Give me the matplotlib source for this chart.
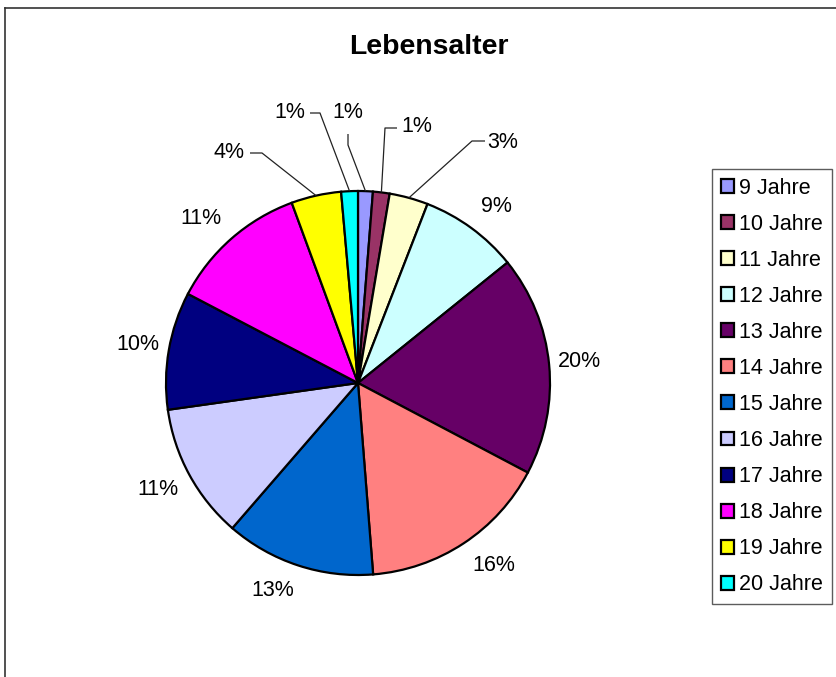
import matplotlib
matplotlib.use("Agg")
import matplotlib.pyplot as plt
from matplotlib.patches import Patch
import numpy as np

plt.rcParams['font.family'] = ['Liberation Sans', 'DejaVu Sans']

# ---- data ----
categories = ["9 Jahre", "10 Jahre", "11 Jahre", "12 Jahre", "13 Jahre", "14 Jahre",
              "15 Jahre", "16 Jahre", "17 Jahre", "18 Jahre", "19 Jahre", "20 Jahre"]
values = [1.24, 1.4, 3.25, 8.3, 18.5, 16.0, 12.6, 11.4, 9.9, 11.7, 4.2, 1.4]
pct_labels = ["1%", "1%", "3%", "9%", "20%", "16%", "13%", "11%", "10%", "11%", "4%", "1%"]
colors = ["#9999FF", "#993366", "#FFFFCC", "#CCFFFF", "#660066", "#FF8080",
          "#0066CC", "#CCCCFF", "#000080", "#FF00FF", "#FFFF00", "#00FFFF"]
title = "Lebensalter"

W, H = 836, 677
fig = plt.figure(figsize=(W / 100, H / 100), dpi=100)
ax = fig.add_axes([0, 0, 1, 1])

def Y(y):
    return H - y

cx, cy, R = 358, Y(383), 192
wedges, _ = ax.pie(values, colors=colors, startangle=90, counterclock=False,
                   center=(cx, cy), radius=R,
                   wedgeprops=dict(edgecolor="black", linewidth=1.6))
ax.set_xlim(0, W)
ax.set_ylim(0, H)
ax.axis("off")

fs_lab = 15.5
renderer = fig.canvas.get_renderer()

# labels with leader lines (layout in image pixel coords): text centre, start, elbow
leader = {
    0: ((348, 113), (348, 134), (348, 145)),
    1: ((417, 127), (397, 128), (385, 128)),
    2: ((503, 142), (485, 141), (472, 141)),
    10: ((229, 152), (250, 153), (262, 153)),
    11: ((290, 113), (310, 113), (320, 113)),
}

for i, w in enumerate(wedges):
    mid = np.deg2rad((w.theta1 + w.theta2) / 2)
    dx, dy = np.cos(mid), np.sin(mid)
    if i in leader:
        (tx, ty), (sx, sy), (ex, ey) = leader[i]
        px, py = cx + R * dx, cy + R * dy
        ax.plot([sx, ex, px], [Y(sy), Y(ey), py], color="#222222", lw=0.9,
                solid_capstyle="butt", zorder=5)
        ax.text(tx, Y(ty), pct_labels[i], fontsize=fs_lab, ha="center", va="center")
    else:
        t = ax.text(0, 0, pct_labels[i], fontsize=fs_lab, ha="center", va="center")
        bb = t.get_window_extent(renderer)
        hw, hh = bb.width / 2, bb.height / 2 * 0.8
        d = R + 8 + 10 * abs(dy)
        ax_, ay_ = cx + d * dx, cy + d * dy
        ox = hw * np.clip(dx * 3, -1, 1)
        oy = hh * np.clip(dy * 3, -1, 1)
        t.set_position((ax_ + ox, ay_ + oy))

fig.text(429 / W, 1 - 47 / H, title, fontsize=20.4, fontweight="bold",
         ha="center", va="center")

# chart area border
ax.plot([5, 5], [0, Y(8)], color="#333333", lw=1.2, solid_capstyle="projecting")
ax.plot([5, W], [Y(8), Y(8)], color="#333333", lw=1.2, solid_capstyle="projecting")

handles = [Patch(facecolor=c, edgecolor="black", linewidth=1.6) for c in colors]
leg = ax.legend(handles, categories, loc="upper left",
                bbox_to_anchor=(712 / W, 1 - 169 / H), bbox_transform=fig.transFigure,
                fontsize=15.5, frameon=True, fancybox=False, edgecolor="#333333",
                borderaxespad=0, handlelength=0.62, handleheight=0.62,
                handletextpad=0.25, labelspacing=0.70, borderpad=0.4)
leg.get_frame().set_linewidth(1.0)

fig.savefig("out.png", dpi=100)
